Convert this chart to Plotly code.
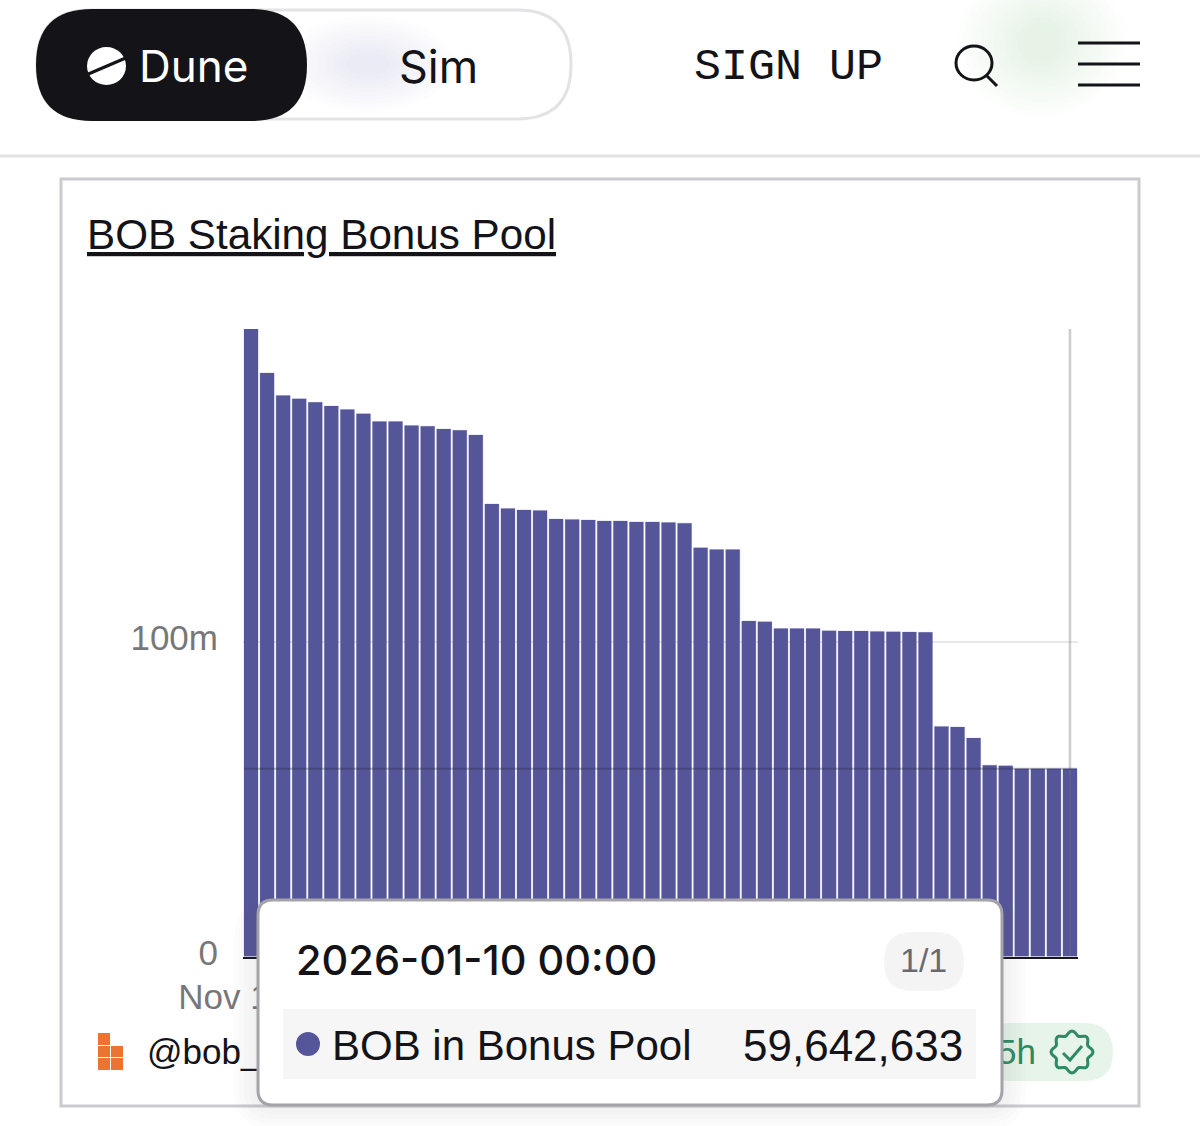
import math

import numpy as np
import pandas as pd
import plotly.graph_objects as go

W = 1200
H = 1126

# daily pool size, millions of BOB
first_day = "2025-11-20"
last_day = "2026-01-10"
pool_millions = [
    199.4, 185.4, 178.3, 177.2, 176.1, 174.9, 173.8, 172.5, 170.0, 170.0,
    168.7, 168.5, 167.6, 167.2, 165.7, 143.8, 142.4, 141.9, 141.7, 139.0,
    138.9, 138.7, 138.4, 138.4, 138.1, 138.1, 137.9, 137.7, 129.9, 129.3,
    129.3, 106.6, 106.4, 104.2, 104.2, 104.2, 103.5, 103.4, 103.4, 103.3,
    103.2, 103.1, 103.0, 73.1, 72.9, 69.4, 60.8, 60.6, 59.7, 59.7,
    59.7, 59.642633,
]
y_ticks = [0, 100e6]
y_labels = ["0", "100m"]
x_tick_label = "Nov 1"
series_name = "BOB in Bonus Pool"
title_text = "BOB Staking Bonus Pool"

days = pd.date_range(first_day, last_day, freq="D")
pool = np.array(pool_millions) * 1e6

BAR = "#55559a"
INK = "#131318"
GREY = "#777779"
SANS = "Liberation Sans"


def px(x):
    return x / W


def py(y):
    return 1 - y / H


def rect(x0, y0, x1, y1, fill, line=None, width=0, **kw):
    return dict(type="rect", xref="paper", yref="paper", layer="above",
                x0=px(x0), x1=px(x1), y0=py(y0), y1=py(y1), fillcolor=fill,
                line=dict(color=line or "rgba(0,0,0,0)", width=width), **kw)


def circle(x0, y0, x1, y1, fill="rgba(0,0,0,0)", line=None, width=0):
    s = rect(x0, y0, x1, y1, fill, line, width)
    s["type"] = "circle"
    return s


def seg(x0, y0, x1, y1, color=INK, width=3):
    return dict(type="line", xref="paper", yref="paper", layer="above",
                x0=px(x0), x1=px(x1), y0=py(y0), y1=py(y1),
                line=dict(color=color, width=width))


def rounded(x0, y0, x1, y1, r, fill, line=None, width=0):
    p = [
        (x0 + r, y0), (x1 - r, y0), (x1, y0), (x1, y0 + r), (x1, y1 - r),
        (x1, y1), (x1 - r, y1), (x0 + r, y1), (x0, y1), (x0, y1 - r),
        (x0, y0 + r), (x0, y0), (x0 + r, y0),
    ]
    c = [f"{px(a):.5f},{py(b):.5f}" for a, b in p]
    path = (f"M{c[0]} L{c[1]} Q{c[2]} {c[3]} L{c[4]} Q{c[5]} {c[6]} L{c[7]} "
            f"Q{c[8]} {c[9]} L{c[10]} Q{c[11]} {c[12]} Z")
    return dict(type="path", xref="paper", yref="paper", layer="above", path=path,
                fillcolor=fill, line=dict(color=line or "rgba(0,0,0,0)", width=width))


def polyline(points, fill="rgba(0,0,0,0)", line=INK, width=3, close=False):
    c = [f"{px(a):.5f},{py(b):.5f}" for a, b in points]
    path = "M" + " L".join(c) + (" Z" if close else "")
    return dict(type="path", xref="paper", yref="paper", layer="above", path=path,
                fillcolor=fill, line=dict(color=line, width=width))


def label(x, y, text, size, color=INK, family=SANS, anchor="left", weight=None):
    return dict(xref="paper", yref="paper", x=px(x), y=py(y), text=text, showarrow=False,
                xanchor=anchor, yanchor="middle", borderpad=0,
                font=dict(family=family, size=size, color=color, weight=weight))


fig = go.Figure(go.Bar(
    x=days, y=pool, name=series_name,
    marker=dict(color=BAR, line=dict(width=1, color="rgba(85,85,154,0.22)")),
))

shapes = []

# soft glows behind the header
for i in range(12):
    rx = 85 - i * 6
    ry = 75 - i * 5
    shapes.append(circle(1042 - rx, 42 - ry, 1042 + rx, 42 + ry, "rgba(190,225,195,0.03)"))
for i in range(10):
    rx = 85 - i * 7
    ry = 48 - i * 4
    shapes.append(circle(368 - rx, 64 - ry, 368 + rx, 64 + ry, "rgba(205,205,212,0.03)"))

# header
shapes.append(rounded(37, 10, 571, 119, 54, "rgba(0,0,0,0)", "#e3e3e6", 3))
shapes.append(rounded(36, 9, 307, 121, 56, INK))
shapes.append(circle(87, 47, 126, 85, "#ffffff"))
shapes.append(seg(86, 75, 128, 57, INK, 3))
shapes.append(circle(956, 46, 992, 80, line=INK, width=3))
shapes.append(seg(986, 75, 997, 86, INK, 3))
for y in (43, 64, 85):
    shapes.append(seg(1078, y, 1140, y, INK, 3))
shapes.append(seg(0, 156, W, 156, "#e3e3e6", 3))

# card
shapes.append(rect(61, 179, 1139, 1106, "rgba(0,0,0,0)", "#cbcbcf", 3))

# crosshair on the hovered bar
shapes.append(dict(type="line", xref="x", yref="paper", layer="above", x0=days[-1], x1=days[-1],
                   y0=py(956), y1=py(329), line=dict(color="rgba(110,110,125,0.35)", width=2.5)))
shapes.append(dict(type="line", xref="paper", yref="y", layer="above", x0=px(244), x1=px(1077),
                   y0=pool[-1], y1=pool[-1], line=dict(color="rgba(35,35,60,0.3)", width=2)))

# footer of the card, the tooltip sits over part of it
for a, b, c, d in [(98, 1033, 110, 1045), (98, 1046, 110, 1057), (111, 1046, 123, 1057),
                   (98, 1058, 110, 1070), (111, 1058, 123, 1070)]:
    shapes.append(rect(a, b, c, d, "#ec7430"))
shapes.append(rect(141, 1022, 300, 1074, "rgba(0,0,0,0)",
                   label=dict(text="@bob_", textposition="middle left",
                              font=dict(family=SANS, size=35, color=INK))))
shapes.append(rounded(980, 1023, 1113, 1081, 29, "#e7f4ea"))
shapes.append(rect(991, 1019, 1060, 1077, "rgba(0,0,0,0)",
                   label=dict(text="5h", textposition="middle left",
                              font=dict(family=SANS, size=35, color="#2e8a60"))))
badge = []
for k in range(73):
    a = 2 * math.pi * k / 72
    r = 19 + 2 * math.cos(8 * a)
    badge.append((1072 + r * math.cos(a), 1052 + r * math.sin(a)))
shapes.append(polyline(badge, line="#2e8a60", width=3, close=True))
shapes.append(polyline([(1063, 1053), (1070, 1060), (1082, 1046)], line="#2e8a60", width=3))

# tooltip
for i in range(5):
    grow = 24 - i * 5
    shapes.append(rounded(258 - grow, 900, 1002 + grow, 1105 + grow, 16 + grow, "rgba(90,90,100,0.02)"))
shapes.append(rounded(258, 900, 1002, 1105, 15, "#ffffff", "#a3a3a9", 3))
shapes.append(rounded(884, 932, 964, 991, 29, "#f4f4f5"))
shapes.append(rect(283, 1009, 976, 1079, "#f6f6f6"))
shapes.append(circle(296, 1032, 320, 1056, BAR))

annotations = [
    label(138, 66, "Dune", 44, "#ffffff", "Inter"),
    label(398, 66, "Sim", 45, INK, "Inter"),
    label(693, 67, "SIGN UP", 45, INK, "Liberation Mono"),
    label(86, 234, f"<u>{title_text}</u>", 42.2),
    label(295, 960, f"{days[-1]:%Y-%m-%d %H:%M}", 41.5, INK, "Inter", weight=500),
    label(923, 960, "1/1", 34, "#6a6a6e", anchor="center"),
    label(331, 1045, series_name, 42),
    label(964, 1045, f"{round(pool[-1]):,}", 44, anchor="right"),
]

fig.update_layout(
    width=W,
    height=H,
    margin=dict(l=0, r=0, t=0, b=0),
    paper_bgcolor="#ffffff",
    plot_bgcolor="#ffffff",
    showlegend=False,
    bargap=0.125,
    shapes=shapes,
    annotations=annotations,
    xaxis=dict(
        type="date",
        automargin=False,
        domain=[px(243), px(1078)],
        range=[days[0] - pd.Timedelta(hours=12), days[-1] + pd.Timedelta(hours=12)],
        tickmode="array",
        tickvals=[days[0]],
        ticktext=[x_tick_label],
        ticks="",
        showgrid=False,
        showline=True,
        linecolor="#16161c",
        linewidth=2,
        tickfont=dict(family=SANS, size=35, color=GREY),
        ticklabelstandoff=8,
        ticklabelshift=-27,
    ),
    yaxis=dict(
        automargin=False,
        domain=[py(956.5), py(329)],
        range=[0, pool.max()],
        tickmode="array",
        tickvals=y_ticks,
        ticktext=y_labels,
        ticks="",
        showgrid=True,
        gridcolor="#e8e8ea",
        gridwidth=2,
        zeroline=False,
        showline=False,
        tickfont=dict(family=SANS, size=35, color=GREY),
        ticklabelstandoff=24,
        ticklabelshift=-4,
    ),
)

fig.write_html("out.html", config=dict(displayModeBar=False),
               post_script="document.body.style.margin='0';document.body.style.overflow='hidden';")
